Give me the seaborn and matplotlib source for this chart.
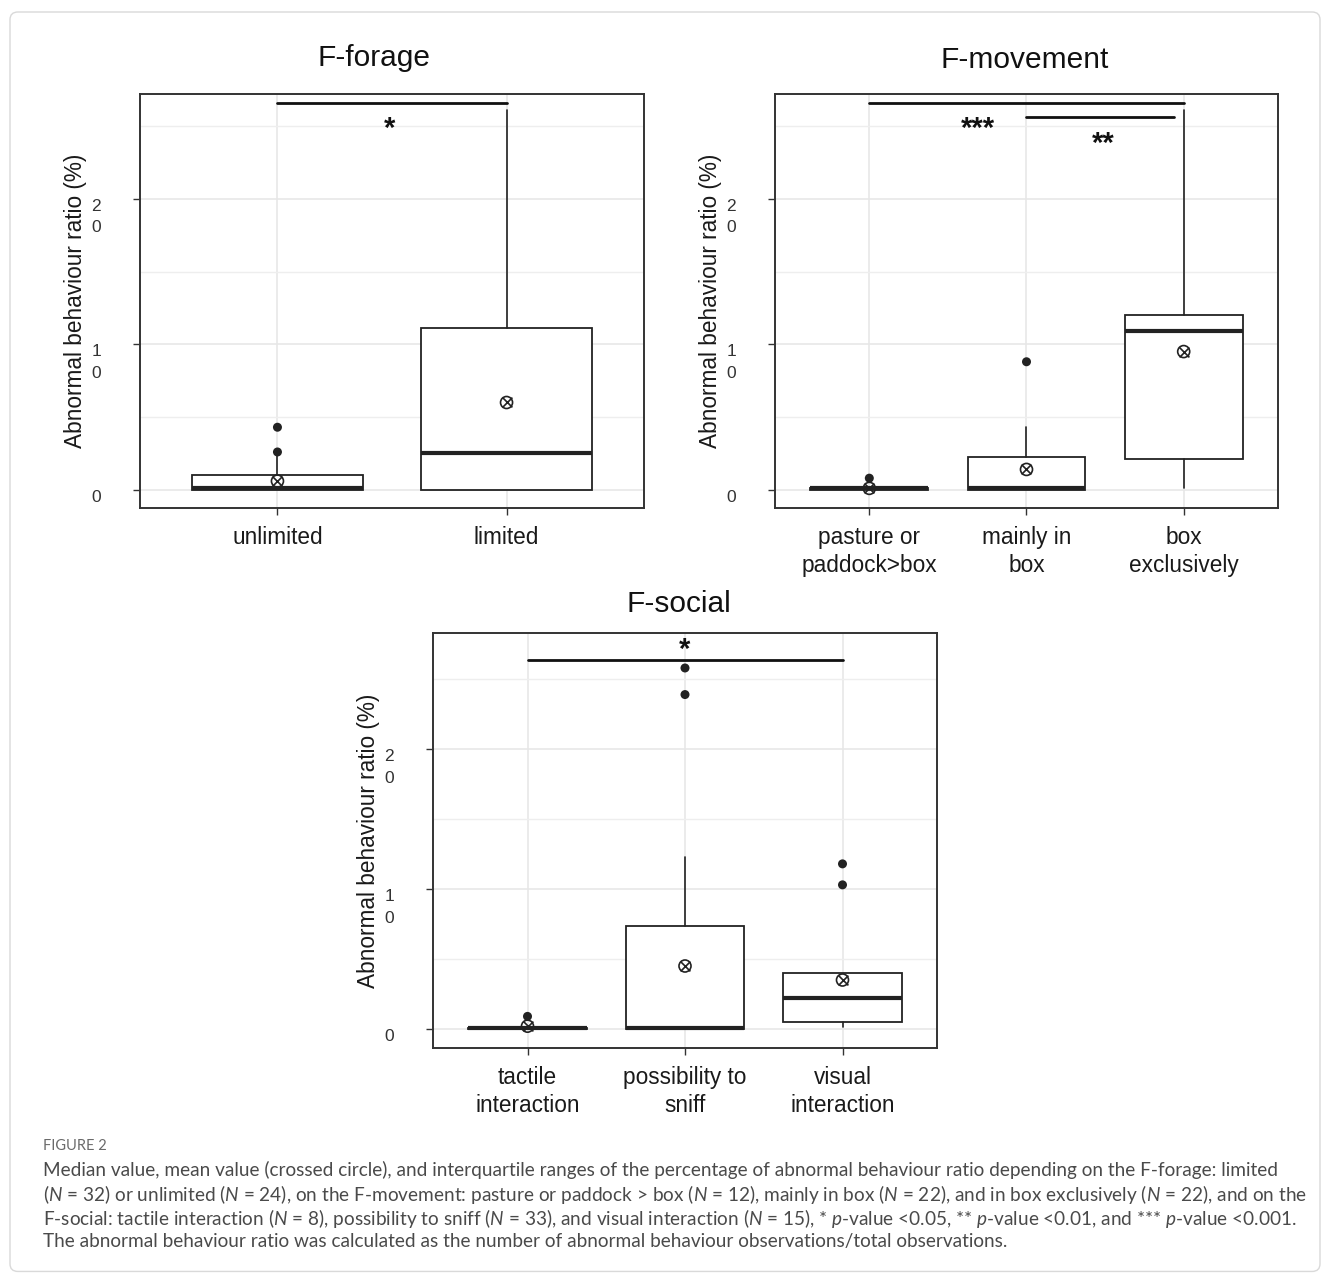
import seaborn as sns
import matplotlib.pyplot as plt
from matplotlib.patches import FancyBboxPatch
import matplotlib.transforms as mtransforms

# ---- data (abnormal behaviour ratio, %) ----
forage_cats = ["unlimited", "limited"]
forage_q1 = [0.0, 0.0]
forage_med = [0.1, 2.55]
forage_q3 = [1.0, 11.1]
forage_lo = [0.0, 0.0]
forage_hi = [2.5, 26.1]
forage_mean = [0.6, 6.0]
forage_fliers = [[2.6, 4.3], []]

move_cats = ["pasture or\npaddock>box", "mainly in\nbox", "box\nexclusively"]
move_q1 = [0.0, 0.0, 2.1]
move_med = [0.1, 0.1, 10.9]
move_q3 = [0.1, 2.25, 12.0]
move_lo = [0.0, 0.0, 0.1]
move_hi = [0.1, 4.3, 26.1]
move_mean = [0.1, 1.4, 9.5]
move_fliers = [[0.8], [8.8], []]

social_cats = ["tactile\ninteraction", "possibility to\nsniff", "visual\ninteraction"]
social_q1 = [0.0, 0.0, 0.5]
social_med = [0.1, 0.05, 2.2]
social_q3 = [0.1, 7.35, 4.0]
social_lo = [0.0, 0.0, 0.15]
social_hi = [0.1, 12.3, 4.0]
social_mean = [0.2, 4.5, 3.5]
social_fliers = [[0.9], [23.9, 25.8], [10.3, 11.8]]

ytick_vals = [0, 10, 20]
ytick_text = ["0", "1\n0", "2\n0"]

sns.set_theme(style="white")
plt.rcParams['font.family'] = ['Liberation Sans', 'DejaVu Sans']
plt.rcParams['mathtext.fontset'] = 'custom'
plt.rcParams['mathtext.it'] = 'Lato:italic'
plt.rcParams['mathtext.rm'] = 'Lato'

W, H = 1322, 1274
fig = plt.figure(figsize=(W / 100, H / 100), dpi=100)


def px_axes(x0, y0, x1, y1):
    return fig.add_axes([x0 / W, 1 - y1 / H, (x1 - x0) / W, (y1 - y0) / H])


def draw_panel(ax, cats, q1, med, q3, lo, hi, mean, fliers, ylim):
    stats = []
    for i in range(len(cats)):
        stats.append(dict(q1=q1[i], med=med[i], q3=q3[i], whislo=lo[i],
                          whishi=hi[i], fliers=[], label=cats[i]))
    pos = list(range(len(cats)))
    ax.bxp(stats, positions=pos, widths=0.75, showfliers=False, showcaps=False,
           patch_artist=True, zorder=3,
           boxprops=dict(facecolor="white", edgecolor="#222222", linewidth=1.3),
           medianprops=dict(color="#222222", linewidth=3),
           whiskerprops=dict(color="#222222", linewidth=1.2))
    fx = [p for p, f in zip(pos, fliers) for _ in f]
    fy = [v for f in fliers for v in f]
    sns.scatterplot(x=fx, y=fy, ax=ax, color="#222222", s=42, edgecolor="none", zorder=4)
    sns.scatterplot(x=pos, y=mean, ax=ax, marker="o", s=75, facecolor="none",
                    edgecolor="#222222", linewidth=1.2, zorder=5)
    sns.scatterplot(x=pos, y=mean, ax=ax, marker="x", s=50, color="#222222",
                    linewidth=1.2, zorder=5)
    ax.set_xlim(-0.6, len(cats) - 0.4)
    ax.set_ylim(*ylim)
    ax.set_xticks(pos)
    ax.set_xticklabels(cats, fontsize=16.3, color="#1a1a1a", linespacing=1.25)
    ax.set_yticks(ytick_vals)
    ax.set_yticks([5, 15, 25], minor=True)
    ax.set_yticklabels(ytick_text, fontsize=12.5, color="#333333", va="top",
                       linespacing=1.55)
    off = mtransforms.ScaledTranslation(0, 9 / 72, fig.dpi_scale_trans)
    for lab in ax.get_yticklabels():
        lab.set_transform(lab.get_transform() + off)
    ax.grid(True, which="major", color="#e6e6e6", linewidth=1.1, zorder=0)
    ax.grid(True, which="minor", axis="y", color="#eeeeee", linewidth=1.0, zorder=0)
    ax.set_axisbelow(True)
    ax.tick_params(axis="both", which="major", direction="out", length=5,
                   width=1, color="#333333", left=True, bottom=True)
    ax.tick_params(axis="y", which="minor", length=0)
    ax.tick_params(axis="x", pad=8)
    ax.tick_params(axis="y", pad=23)
    for sp in ax.spines.values():
        sp.set_color("#333333")
        sp.set_linewidth(1.4)
    ax.set_ylabel("Abnormal behaviour ratio (%)", fontsize=16.3, color="#1a1a1a",
                  labelpad=3)
    ax.set_xlabel("")


def sig_bar(ax, x0, x1, y, label, tx, ty):
    ax.plot([x0, x1], [y, y], color="#111111", linewidth=2, zorder=6)
    ax.text(tx, ty, label, ha="center", va="center", fontsize=21,
            fontweight="bold", color="#111111", zorder=6)


ax1 = px_axes(140, 94, 644, 508)
draw_panel(ax1, forage_cats, forage_q1, forage_med, forage_q3, forage_lo,
           forage_hi, forage_mean, forage_fliers, (-1.25, 27.2))
sig_bar(ax1, 0, 1, 26.6, "*", 0.49, 24.8)

ax2 = px_axes(775, 94, 1278, 508)
draw_panel(ax2, move_cats, move_q1, move_med, move_q3, move_lo,
           move_hi, move_mean, move_fliers, (-1.25, 27.2))
sig_bar(ax2, 0, 2, 26.6, "***", 0.69, 24.8)
sig_bar(ax2, 1, 1.94, 25.6, "**", 1.49, 23.8)

ax3 = px_axes(433, 633, 937, 1048)
draw_panel(ax3, social_cats, social_q1, social_med, social_q3, social_lo,
           social_hi, social_mean, social_fliers, (-1.36, 28.3))
sig_bar(ax3, 0, 2, 26.4, "*", 1.0, 27.1)

# titles
fig.text(374 / W, 1 - 58 / H, "F-forage", ha="center", va="center", fontsize=21.5, color="#111111")
fig.text(1025 / W, 1 - 60 / H, "F-movement", ha="center", va="center", fontsize=21.5, color="#111111")
fig.text(679 / W, 1 - 604 / H, "F-social", ha="center", va="center", fontsize=21.5, color="#111111")

# caption
fig.text(43 / W, 1 - 1146 / H, "FIGURE 2", ha="left", va="center", fontsize=10.5,
         color="#6a6a6a", family=["Lato", "DejaVu Sans"])
caption = [
    "Median value, mean value (crossed circle), and interquartile ranges of the percentage of abnormal behaviour ratio depending on the F-forage: limited",
    "($\\it{N}$ = 32) or unlimited ($\\it{N}$ = 24), on the F-movement: pasture or paddock > box ($\\it{N}$ = 12), mainly in box ($\\it{N}$ = 22), and in box exclusively ($\\it{N}$ = 22), and on the",
    "F-social: tactile interaction ($\\it{N}$ = 8), possibility to sniff ($\\it{N}$ = 33), and visual interaction ($\\it{N}$ = 15), * $\\it{p}$-value <0.05, ** $\\it{p}$-value <0.01, and *** $\\it{p}$-value <0.001.",
    "The abnormal behaviour ratio was calculated as the number of abnormal behaviour observations/total observations.",
]
for i, line in enumerate(caption):
    fig.text(43 / W, 1 - (1170 + 24 * i) / H, line, ha="left", va="center",
             fontsize=13.7, color="#4a4a4a", family=["Lato", "DejaVu Sans"])

# light frame round the figure
fig.patches.append(FancyBboxPatch((10 / W, 0.002), 1 - 12 / W, 1 - 12 / H - 0.002,
                                  boxstyle="round,pad=0,rounding_size=0.006",
                                  transform=fig.transFigure, fill=False,
                                  edgecolor="#d9d9d9", linewidth=1.0))

plt.savefig("out.png", dpi=100)
